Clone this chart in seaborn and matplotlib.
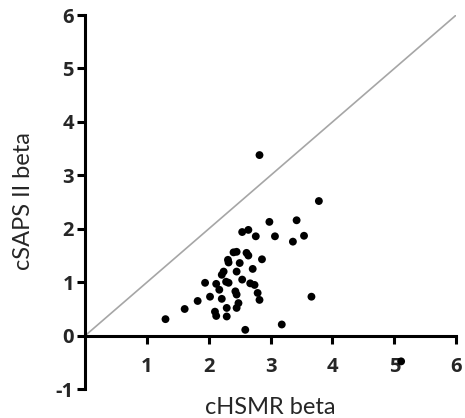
import matplotlib
matplotlib.use("Agg")
import matplotlib.pyplot as plt
import seaborn as sns
import pandas as pd

x_vals = [1.30, 1.61, 1.82, 1.94, 2.02, 2.10, 2.12, 2.12, 2.17, 2.21, 2.21, 2.24,
          2.28, 2.32, 2.29, 2.29, 2.31, 2.32, 2.40, 2.45, 2.43, 2.45, 2.45, 2.48,
          2.45, 2.50, 2.54, 2.54, 2.59, 2.61, 2.64, 2.64, 2.67, 2.71, 2.74, 2.76,
          2.79, 2.82, 2.82, 2.86, 2.98, 3.07, 3.18, 3.36, 3.42, 3.54, 3.66, 3.78, 5.11]
y_vals = [0.31, 0.50, 0.65, 0.99, 0.73, 0.45, 0.37, 0.97, 0.86, 0.69, 1.14, 1.20,
          1.01, 0.99, 0.52, 0.36, 1.42, 1.37, 1.56, 1.57, 0.83, 0.77, 1.20, 0.61,
          0.52, 1.36, 1.05, 1.94, 0.11, 1.55, 1.50, 1.98, 0.98, 1.25, 0.95, 1.86,
          0.80, 0.67, 3.38, 1.43, 2.13, 1.86, 0.21, 1.76, 2.16, 1.87, 0.73, 2.52, -0.48]
identity = [0, 6]
x_ticks = [1, 2, 3, 4, 5, 6]
y_ticks = [-1, 0, 1, 2, 3, 4, 5, 6]
x_label = "cHSMR beta"
y_label = "cSAPS II beta"

df = pd.DataFrame({"x": x_vals, "y": y_vals})

sns.set_style("ticks")
plt.rcParams["font.family"] = ["Lato", "DejaVu Sans"]
plt.rcParams["axes.unicode_minus"] = False

fig = plt.figure(figsize=(4.65, 4.18), dpi=100)
ax = fig.add_axes([0.183, 0.069, 0.798, 0.895])

sns.lineplot(x=identity, y=identity, ax=ax, color="#a6a6a6", linewidth=1.2)
sns.scatterplot(data=df, x="x", y="y", ax=ax, color="black", s=32,
                edgecolor="none", zorder=3)

ax.set_xlim(0, 6)
ax.set_ylim(-1, 6)
ax.spines["right"].set_visible(False)
ax.spines["top"].set_visible(False)
ax.spines["bottom"].set_position(("data", 0))
for s in ["left", "bottom"]:
    ax.spines[s].set_linewidth(2.2)
    ax.spines[s].set_color("black")
tick_font = dict(fontweight="bold", fontsize=14.5, family=["Open Sans", "DejaVu Sans"])
ax.set_xticks(x_ticks)
ax.set_xticklabels([str(t) for t in x_ticks], **tick_font)
ax.set_yticks(y_ticks)
ax.set_yticklabels([str(t) for t in y_ticks], **tick_font)
ax.tick_params(axis="both", direction="out", length=6, width=2.2, color="black")
ax.tick_params(axis="x", pad=9)
ax.tick_params(axis="y", pad=2)

ax.set_xlabel("")
ax.set_ylabel("")
fig.text(270 / 465, 1 - 407 / 418, x_label, ha="center", va="center", fontsize=17)
fig.text(24 / 465, 1 - 201 / 418, y_label, ha="center", va="center", rotation=90,
         fontsize=17)

fig.savefig("out.png", dpi=100)
